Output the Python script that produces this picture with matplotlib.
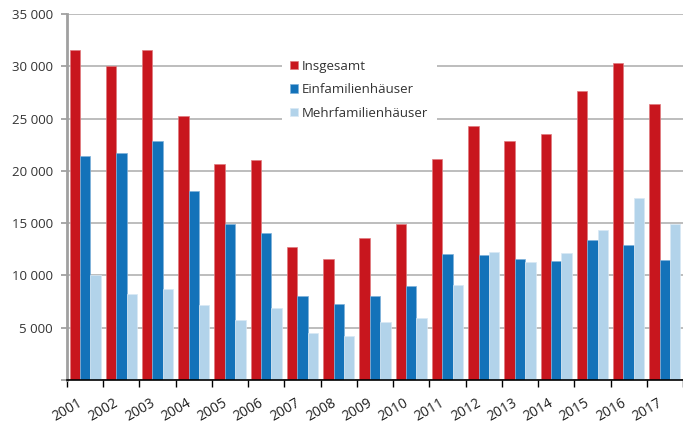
import numpy as np
import matplotlib
matplotlib.use("Agg")
import matplotlib.pyplot as plt
from matplotlib.ticker import FuncFormatter, MultipleLocator

plt.rcParams['font.family'] = ['Open Sans', 'DejaVu Sans']

# Daten
years = [str(y) for y in range(2001, 2018)]
insgesamt = [31600, 30000, 31600, 25250, 20700, 21000, 12700, 11550, 13600, 14950,
             21100, 24250, 22850, 23550, 27600, 30300, 26400]
einfamilien = [21450, 21700, 22850, 18050, 14900, 14050, 8050, 7250, 8050, 9000,
               12050, 12000, 11550, 11400, 13350, 12900, 11450]
mehrfamilien = [10050, 8200, 8700, 7150, 5750, 6850, 4500, 4250, 5500, 5950,
                9050, 12250, 11300, 12100, 14300, 17450, 14900]

series = [
    ("Insgesamt", insgesamt, "#c8161e", "#e07a7e"),
    ("Einfamilienhäuser", einfamilien, "#1372b9", "#7fb2da"),
    ("Mehrfamilienhäuser", mehrfamilien, "#b2d3ea", "#d8e8f4"),
]

fig = plt.figure(figsize=(6.83, 4.28), dpi=100)
ax = fig.add_axes([67 / 683, 1 - 380 / 428, 1 - 67 / 683, 366 / 428])

x = np.arange(len(years))
w = 0.287
for i, (name, vals, col, edge) in enumerate(series):
    ax.bar(x + (i - 1) * w, vals, width=w, color=col, label=name,
           edgecolor=edge, linewidth=0.5, zorder=3)

ax.set_xlim(-0.5, len(years) - 0.5)
ax.set_ylim(0, 35000)
ax.yaxis.set_major_locator(MultipleLocator(5000))
ax.yaxis.set_major_formatter(FuncFormatter(
    lambda v, p: "" if v == 0 else f"{int(v):,}".replace(",", " ")))
ax.grid(axis="y", color="#bdbdbd", linewidth=1.4, zorder=0)

# Jahreslabels in der Mitte, Ticks an den Gruppengrenzen
ax.set_xticks(x)
ax.set_xticklabels(years, rotation=30, ha="right", fontsize=10, color="#222222")
ax.set_xticks(np.arange(-0.5, len(years)), minor=True)
ax.tick_params(axis="x", which="major", length=0, pad=11)
ax.tick_params(axis="x", which="minor", length=5, color="black", width=1)
ax.tick_params(axis="y", length=4, color="#999999", width=1.2, labelsize=9.5,
               labelcolor="#333333", pad=6)

for s in ["top", "right"]:
    ax.spines[s].set_visible(False)
ax.spines["left"].set_color("#a0a0a0")
ax.spines["left"].set_linewidth(2)
ax.spines["bottom"].set_color("black")
ax.spines["bottom"].set_linewidth(1.2)
ax.spines["bottom"].set_zorder(4)

leg = ax.legend(loc="upper left", bbox_to_anchor=(0.339, 0.915), frameon=True,
                fancybox=False, edgecolor="none", facecolor="white", framealpha=1,
                fontsize=9.5, handlelength=0.6, handleheight=0.6, handletextpad=0.3,
                labelspacing=0.8, borderpad=0.6)
for t in leg.get_texts():
    t.set_color("#333333")
leg.set_zorder(5)

fig.savefig("out.png", dpi=100)
